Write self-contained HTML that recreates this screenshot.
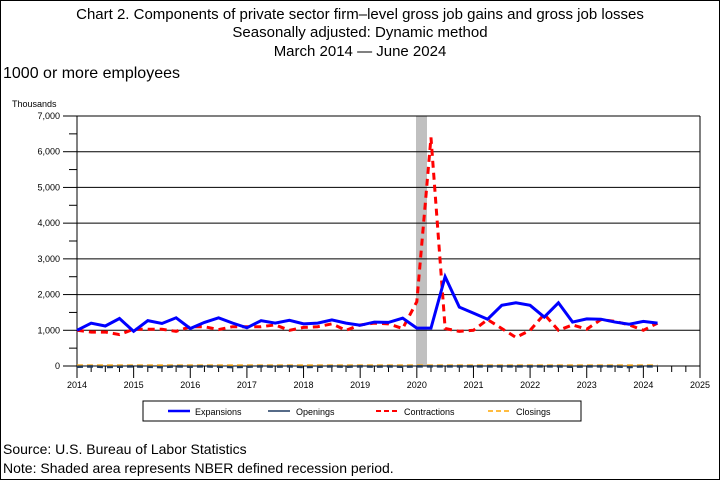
<!DOCTYPE html>
<html><head><meta charset="utf-8"><style>
body{margin:0;background:#fff}
svg{display:block;font-family:"Liberation Sans",sans-serif}
</style></head><body>
<svg id="c" width="720" height="480" viewBox="0 0 720 480">
<rect x="0.5" y="0.5" width="719" height="479" fill="#fff" stroke="#000"/>
<text x="360" y="19" font-size="15" text-anchor="middle">Chart 2. Components of private sector firm–level gross job gains and gross job losses</text>
<text x="360" y="37" font-size="15" text-anchor="middle">Seasonally adjusted: Dynamic method</text>
<text x="360" y="56" font-size="15" text-anchor="middle">March 2014 — June 2024</text>
<text x="3" y="78" font-size="16">1000 or more employees</text>
<text x="12" y="107" font-size="9">Thousands</text>
<rect x="416" y="116" width="11" height="250" fill="#c0c0c0"/>
<g id="grid"></g>
<g id="series"></g>
<rect x="143" y="401" width="438" height="20" fill="#fff" stroke="#000"/>
<g><line x1="168" y1="411" x2="190" y2="411" stroke="#0000ff" stroke-width="2.5"/><text x="195" y="415" font-size="9">Expansions</text></g>
<g><line x1="268" y1="411" x2="290" y2="411" stroke="#1f3a60" stroke-width="1.5"/><text x="296" y="415" font-size="9">Openings</text></g>
<g><line x1="376" y1="411" x2="398" y2="411" stroke="#ff0000" stroke-width="2" stroke-dasharray="5,3"/><text x="404" y="415" font-size="9">Contractions</text></g>
<g><line x1="488" y1="411" x2="510" y2="411" stroke="#ffa500" stroke-width="1.5" stroke-dasharray="5,3"/><text x="516" y="415" font-size="9">Closings</text></g>
<text x="3" y="454" font-size="14">Source: U.S. Bureau of Labor Statistics</text>
<text x="3" y="473" font-size="14">Note: Shaded area represents NBER defined recession period.</text>
</svg>
<script>
const yTicks=[0,1000,2000,3000,4000,5000,6000,7000];
const yLabels=["0","1,000","2,000","3,000","4,000","5,000","6,000","7,000"];
const years=[2014,2015,2016,2017,2018,2019,2020,2021,2022,2023,2024,2025];
const expansions=[1000,1200,1120,1330,970,1270,1190,1350,1050,1220,1350,1200,1070,1270,1200,1280,1180,1200,1290,1200,1140,1230,1220,1340,1060,1060,2500,1650,1480,1310,1700,1770,1700,1370,1770,1230,1320,1310,1230,1170,1250,1200];
const contractions=[1000,950,950,880,1030,1030,1030,970,1100,1100,1020,1100,1100,1100,1150,1000,1080,1100,1180,1000,1150,1200,1180,1050,1800,6400,1050,970,1000,1300,1050,800,1000,1450,1000,1150,1030,1300,1250,1150,1000,1200];
const openings=[-20,-10,-30,-20,-10,-20,-30,-10,-20,-10,-20,-30,-20,-10,-20,-10,-30,-20,-10,-20,-10,-20,-10,-20,-10,-10,-10,-10,-10,-10,-10,-10,-10,-10,-10,-20,-10,-10,-10,-30,-10,-10];
const closings=[10,10,10,10,10,10,10,10,10,10,10,10,10,10,10,10,10,10,10,10,10,10,10,10,10,10,10,10,10,10,10,10,10,10,10,10,10,10,10,10,10,10];
const NS="http://www.w3.org/2000/svg";
const X0=77,X1=700,Y0=366,Y1=116;
const yS=v=>Y0-(v/7000)*(Y0-Y1);
const xYear=y=>X0+(y-2014)/11*(X1-X0);
const xQ=i=>xYear(2014+i/4);
function mk(t,a,p){const e=document.createElementNS(NS,t);for(const k in a)e.setAttribute(k,a[k]);p.appendChild(e);return e;}
const g=document.getElementById('grid');
yTicks.forEach((v,i)=>{
 const l=mk('line',{x1:X0,x2:X1,y1:yS(v),y2:yS(v),stroke:'#000','stroke-width':1},g);
 
 
 mk('line',{x1:X0-14,x2:X0,y1:yS(v),y2:yS(v),stroke:'#000'},g);
 if(i<yTicks.length-1)mk('line',{x1:X0-8,x2:X0,y1:yS(v+500),y2:yS(v+500),stroke:'#000'},g);
 const t=mk('text',{x:X0-17,y:yS(v)+3,'font-size':9,'text-anchor':'end'},g);
 t.textContent=yLabels[i];
 
 
});
mk('line',{x1:X0,x2:X0,y1:Y1,y2:Y0+12,stroke:'#000'},g);
mk('line',{x1:X1,x2:X1,y1:Y1,y2:Y0+12,stroke:'#000'},g);
years.forEach((yr,i)=>{
 const x=xYear(yr);
 mk('line',{x1:x,x2:x,y1:Y0,y2:Y0+12,stroke:'#000'},g);
 if(i<years.length-1)for(let q=1;q<4;q++){const xq=xYear(yr+q/4);mk('line',{x1:xq,x2:xq,y1:Y0,y2:Y0+6,stroke:'#000'},g);}
 const t=mk('text',{x:x,y:Y0+22,'font-size':9,'text-anchor':'middle'},g);
 t.textContent=yr;
 
 
});
const s=document.getElementById('series');
function line(arr,name,st){
 const p=mk('polyline',Object.assign({points:arr.map((v,i)=>xQ(i)+','+yS(v)).join(' '),fill:'none'},st),s);
 
 
}
line(closings,'closings-line',{stroke:'#ffa500','stroke-width':2.5,'stroke-dasharray':'6,4'});
line(openings,'openings-line',{stroke:'#1f3a60','stroke-width':2.5,'stroke-dasharray':'6,4'});
line(contractions,'contractions-line',{stroke:'#ff0000','stroke-width':3,'stroke-dasharray':'7,5'});
line(expansions,'expansions-line',{stroke:'#0000ff','stroke-width':3});
</script>
</body></html>
